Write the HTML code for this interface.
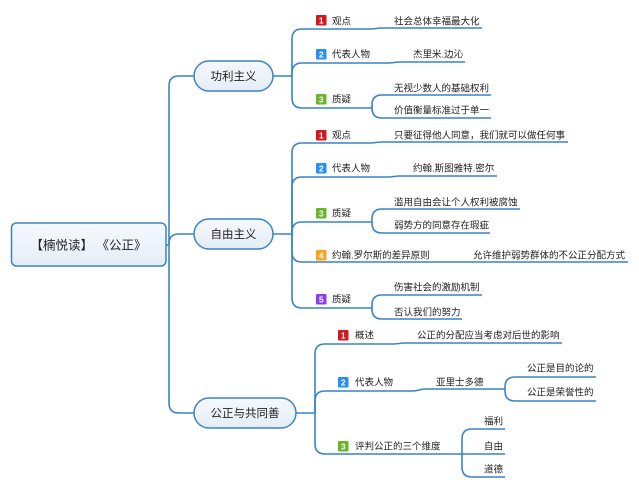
<!DOCTYPE html>
<html><head><meta charset="utf-8">
<style>
html,body{margin:0;padding:0;background:#fff;}
svg{display:block;}
text{font-family:"Liberation Sans","Noto Sans CJK SC",sans-serif;fill:#222;text-spacing-trim:space-all;}
.s{font-size:9.5px;}
.m{font-size:11.5px;}
.ic{font-size:8.5px;font-weight:bold;fill:#fff;}
path.l{fill:none;stroke:#3a84c5;stroke-width:1.6;}
</style></head>
<body>
<svg width="639" height="489" viewBox="0 0 639 489" xmlns="http://www.w3.org/2000/svg">
<defs>
<linearGradient id="g" x1="0" y1="0" x2="0" y2="1">
<stop offset="0" stop-color="#f6f9fd"/><stop offset="1" stop-color="#e4edf7"/>
</linearGradient>
</defs>

<!-- trunk -->
<path class="l" d="M166,245 H169"/>
<path class="l" d="M194,76 H179 Q169,76 169,86 V403 Q169,413 179,413 H194"/>
<path class="l" d="M169,244 Q169,234 179,234 H194"/>

<!-- group 1 -->
<path class="l" d="M273,76 H292"/>
<path class="l" d="M292,76 V39 Q292,29 302,29 H370 C375,29 377,28 382,28 H482"/>
<path class="l" d="M292,76 V73 Q292,63 302,63 H388 C393,63 395,62 400,62 H465"/>
<path class="l" d="M292,76 V98 Q292,108 302,108 H372"/>
<path class="l" d="M372,107 V105 Q372,95 382,95 H491"/>
<path class="l" d="M372,106 V108 Q372,118 382,118 H491"/>

<!-- group 2 -->
<path class="l" d="M273,234 H292"/>
<path class="l" d="M292,234 V153 Q292,143 302,143 H370 C375,143 377,142 382,142 H568"/>
<path class="l" d="M292,234 V187 Q292,177 302,177 H388 C393,177 395,176 400,176 H497"/>
<path class="l" d="M292,234 V232 Q292,222 302,222 H372"/>
<path class="l" d="M292,234 V252 Q292,262 302,262 H628"/>
<path class="l" d="M292,234 V298 Q292,308 302,308 H372"/>
<path class="l" d="M372,222 V219 Q372,209 382,209 H520"/>
<path class="l" d="M372,221 V223 Q372,233 382,233 H490"/>
<path class="l" d="M372,308 V305 Q372,295 382,295 H482"/>
<path class="l" d="M372,307 V309 Q372,319 382,319 H462"/>

<!-- group 3 -->
<path class="l" d="M296,413 H315"/>
<path class="l" d="M315,413 V354 Q315,344 325,344 H393 C398,344 400,343 405,343 H562"/>
<path class="l" d="M315,413 V401 Q315,391 325,391 H413 C418,391 420,389 425,389 H505"/>
<path class="l" d="M315,413 V444 Q315,454 325,454 H505"/>
<path class="l" d="M505,389 V387 Q505,377 515,377 H596"/>
<path class="l" d="M505,389 V391 Q505,401 515,401 H596"/>
<path class="l" d="M462,454 V439 Q462,429 472,429 H505"/>
<path class="l" d="M462,454 V467 Q462,477 472,477 H505"/>

<!-- root -->
<rect x="11.5" y="223" width="154.5" height="43" rx="5" fill="url(#g)" stroke="#3a84c5" stroke-width="1.5"/>
<text x="88.5" y="249.5" text-anchor="middle" style="font-size:12.5px;" xml:space="preserve">【楠悦读】 《公正》</text>

<!-- main nodes -->
<rect x="194" y="61" width="79" height="30" rx="15" fill="url(#g)" stroke="#3a84c5" stroke-width="1.5"/>
<text class="m" x="233.5" y="80" text-anchor="middle">功利主义</text>
<rect x="194" y="219" width="79" height="30" rx="15" fill="url(#g)" stroke="#3a84c5" stroke-width="1.5"/>
<text class="m" x="233.5" y="238" text-anchor="middle">自由主义</text>
<rect x="194" y="398" width="102" height="30" rx="15" fill="url(#g)" stroke="#3a84c5" stroke-width="1.5"/>
<text class="m" x="245" y="417" text-anchor="middle">公正与共同善</text>

<!-- icons group 1 -->
<rect x="316" y="15" width="10.5" height="10.5" rx="1" fill="#d2171e"/><text class="ic" x="321.2" y="23.7" text-anchor="middle">1</text>
<rect x="316" y="49" width="10.5" height="10.5" rx="1" fill="#2a8ff5"/><text class="ic" x="321.2" y="57.7" text-anchor="middle">2</text>
<rect x="316" y="94" width="10.5" height="10.5" rx="1" fill="#6ab52a"/><text class="ic" x="321.2" y="102.7" text-anchor="middle">3</text>
<text class="s" x="332" y="24.5">观点</text>
<text class="s" x="394" y="24.5">社会总体幸福最大化</text>
<text class="s" x="332" y="57.5">代表人物</text>
<text class="s" x="413" y="57.5">杰里米.边沁</text>
<text class="s" x="332" y="102.5">质疑</text>
<text class="s" x="394" y="91.5">无视少数人的基础权利</text>
<text class="s" x="394" y="113.5">价值衡量标准过于单一</text>

<!-- icons group 2 -->
<rect x="316" y="130" width="10.5" height="10.5" rx="1" fill="#d2171e"/><text class="ic" x="321.2" y="138.7" text-anchor="middle">1</text>
<rect x="316" y="163" width="10.5" height="10.5" rx="1" fill="#2a8ff5"/><text class="ic" x="321.2" y="171.7" text-anchor="middle">2</text>
<rect x="316" y="208" width="10.5" height="10.5" rx="1" fill="#6ab52a"/><text class="ic" x="321.2" y="216.7" text-anchor="middle">3</text>
<rect x="316" y="250" width="10.5" height="10.5" rx="1" fill="#f7a51c"/><text class="ic" x="321.2" y="258.7" text-anchor="middle">4</text>
<rect x="316" y="294" width="10.5" height="10.5" rx="1" fill="#8a3cf0"/><text class="ic" x="321.2" y="302.7" text-anchor="middle">5</text>
<text class="s" x="332" y="138.5">观点</text>
<text class="s" x="394" y="138.5">只要征得他人同意，我们就可以做任何事</text>
<text class="s" x="332" y="171.5">代表人物</text>
<text class="s" x="413" y="171.5">约翰.斯图雅特.密尔</text>
<text class="s" x="332" y="216.5">质疑</text>
<text class="s" x="394" y="205.5">滥用自由会让个人权利被腐蚀</text>
<text class="s" x="394" y="228.5">弱势方的同意存在瑕疵</text>
<text class="s" x="332" y="258.5">约翰.罗尔斯的差异原则</text>
<text class="s" x="473" y="258.5">允许维护弱势群体的不公正分配方式</text>
<text class="s" x="332" y="302.5">质疑</text>
<text class="s" x="394" y="290.5">伤害社会的激励机制</text>
<text class="s" x="394" y="315.5">否认我们的努力</text>

<!-- icons group 3 -->
<rect x="338" y="330" width="10.5" height="10.5" rx="1" fill="#d2171e"/><text class="ic" x="343.2" y="338.7" text-anchor="middle">1</text>
<rect x="338" y="377" width="10.5" height="10.5" rx="1" fill="#2a8ff5"/><text class="ic" x="343.2" y="385.7" text-anchor="middle">2</text>
<rect x="338" y="441" width="10.5" height="10.5" rx="1" fill="#6ab52a"/><text class="ic" x="343.2" y="449.7" text-anchor="middle">3</text>
<text class="s" x="355" y="338.5">概述</text>
<text class="s" x="417" y="338.5">公正的分配应当考虑对后世的影响</text>
<text class="s" x="355" y="385.5">代表人物</text>
<text class="s" x="436" y="385.5">亚里士多德</text>
<text class="s" x="527" y="371.5">公正是目的论的</text>
<text class="s" x="527" y="395.5">公正是荣誉性的</text>
<text class="s" x="355" y="449.5">评判公正的三个维度</text>
<text class="s" x="484" y="424.5">福利</text>
<text class="s" x="484" y="449.5">自由</text>
<text class="s" x="484" y="472.5">道德</text>
</svg>
</body></html>
